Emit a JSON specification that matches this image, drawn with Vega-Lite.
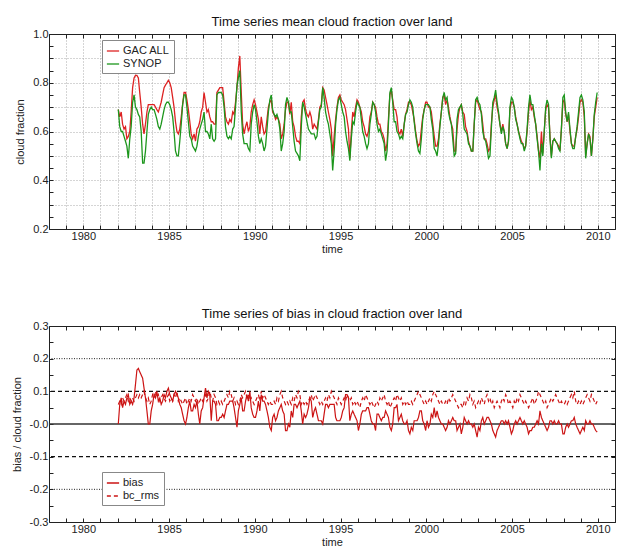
{
"$schema":"https://vega.github.io/schema/vega-lite/v6.json",
"background":"white",
"padding":{"left":11,"top":16,"right":0,"bottom":0},
"config":{"font":"Liberation Sans","view":{"stroke":null},
"axis":{"domainColor":"#222","tickColor":"#222","labelColor":"#222","titleColor":"#222","labelFontSize":11,"titleFontSize":11,"titleFontWeight":"normal","tickSize":-4,"labelPadding":5,"grid":false,"gridColor":"#999","gridDash":[1,2]},
"title":{"fontSize":13,"fontWeight":"normal","offset":-1,"color":"#111"}},
"data":{"values":[
{"t":1982.04,"g":0.69,"s":0.69,"b":0,"r":0.06},{"t":1982.125,"g":0.66,"s":0.62,"b":0.06,"r":0.07},{"t":1982.21,"g":0.68,"s":0.60,"b":0.08,"r":0.06},{"t":1982.29,"g":0.63,"s":0.60,"b":0.05,"r":0.08},{"t":1982.375,"g":0.61,"s":0.58,"b":0.07,"r":0.07},{"t":1982.46,"g":0.62,"s":0.56,"b":0.06,"r":0.08},{"t":1982.54,"g":0.57,"s":0.54,"b":0.08,"r":0.09},{"t":1982.625,"g":0.58,"s":0.49,"b":0.09,"r":0.07},{"t":1982.71,"g":0.60,"s":0.57,"b":0.06,"r":0.08},{"t":1982.79,"g":0.68,"s":0.62,"b":0.07,"r":0.07},{"t":1982.875,"g":0.78,"s":0.72,"b":0.06,"r":0.08},{"t":1982.96,"g":0.82,"s":0.75,"b":0.08,"r":0.07},
{"t":1983.04,"g":0.83,"s":0.70,"b":0.12,"r":0.08},{"t":1983.125,"g":0.83,"s":0.69,"b":0.165,"r":0.09},{"t":1983.21,"g":0.82,"s":0.67,"b":0.17,"r":0.08},{"t":1983.29,"g":0.76,"s":0.66,"b":0.16,"r":0.09},{"t":1983.375,"g":0.70,"s":0.60,"b":0.15,"r":0.08},{"t":1983.46,"g":0.63,"s":0.47,"b":0.14,"r":0.09},{"t":1983.54,"g":0.59,"s":0.47,"b":0.11,"r":0.10},{"t":1983.625,"g":0.63,"s":0.52,"b":0.08,"r":0.08},{"t":1983.71,"g":0.68,"s":0.60,"b":0.04,"r":0.07},{"t":1983.79,"g":0.71,"s":0.67,"b":0,"r":0.08},{"t":1983.875,"g":0.71,"s":0.69,"b":0,"r":0.06},{"t":1983.96,"g":0.71,"s":0.70,"b":0.04,"r":0.07},
{"t":1984.04,"g":0.71,"s":0.69,"b":0.06,"r":0.09},{"t":1984.125,"g":0.71,"s":0.69,"b":0.09,"r":0.08},{"t":1984.21,"g":0.70,"s":0.67,"b":0.08,"r":0.10},{"t":1984.29,"g":0.69,"s":0.65,"b":0.10,"r":0.08},{"t":1984.375,"g":0.68,"s":0.62,"b":0.07,"r":0.09},{"t":1984.46,"g":0.70,"s":0.61,"b":0.08,"r":0.07},{"t":1984.54,"g":0.72,"s":0.63,"b":0.06,"r":0.08},{"t":1984.625,"g":0.75,"s":0.66,"b":0.07,"r":0.09},{"t":1984.71,"g":0.78,"s":0.69,"b":0.09,"r":0.08},{"t":1984.79,"g":0.79,"s":0.71,"b":0.08,"r":0.07},{"t":1984.875,"g":0.80,"s":0.72,"b":0.10,"r":0.08},{"t":1984.96,"g":0.81,"s":0.72,"b":0.11,"r":0.09},
{"t":1985.04,"g":0.80,"s":0.71,"b":0.09,"r":0.07},{"t":1985.125,"g":0.78,"s":0.69,"b":0.08,"r":0.08},{"t":1985.21,"g":0.74,"s":0.66,"b":0.07,"r":0.07},{"t":1985.29,"g":0.70,"s":0.60,"b":0.09,"r":0.09},{"t":1985.375,"g":0.64,"s":0.52,"b":0.10,"r":0.08},{"t":1985.46,"g":0.60,"s":0.50,"b":0.09,"r":0.10},{"t":1985.54,"g":0.59,"s":0.50,"b":0.08,"r":0.07},{"t":1985.625,"g":0.61,"s":0.56,"b":0.06,"r":0.08},{"t":1985.71,"g":0.66,"s":0.63,"b":0.05,"r":0.07},{"t":1985.79,"g":0.71,"s":0.71,"b":0.03,"r":0.06},{"t":1985.875,"g":0.76,"s":0.75,"b":0.01,"r":0.07},{"t":1985.96,"g":0.76,"s":0.75,"b":0,"r":0.08},
{"t":1986.04,"g":0.73,"s":0.70,"b":0.02,"r":0.06},{"t":1986.125,"g":0.69,"s":0.64,"b":0.05,"r":0.07},{"t":1986.21,"g":0.64,"s":0.58,"b":0.07,"r":0.08},{"t":1986.29,"g":0.59,"s":0.57,"b":0.04,"r":0.07},{"t":1986.375,"g":0.57,"s":0.54,"b":0.04,"r":0.09},{"t":1986.46,"g":0.59,"s":0.53,"b":0.06,"r":0.08},{"t":1986.54,"g":0.56,"s":0.52,"b":0.05,"r":0.07},{"t":1986.625,"g":0.61,"s":0.54,"b":0.07,"r":0.08},{"t":1986.71,"g":0.62,"s":0.58,"b":0.03,"r":0.06},{"t":1986.79,"g":0.64,"s":0.61,"b":0,"r":0.07},{"t":1986.875,"g":0.68,"s":0.63,"b":0.04,"r":0.08},{"t":1986.96,"g":0.70,"s":0.65,"b":0.05,"r":0.07},
{"t":1987.04,"g":0.76,"s":0.68,"b":0.08,"r":0.08},{"t":1987.125,"g":0.72,"s":0.60,"b":0.11,"r":0.09},{"t":1987.21,"g":0.68,"s":0.60,"b":0.08,"r":0.07},{"t":1987.29,"g":0.69,"s":0.59,"b":0.10,"r":0.08},{"t":1987.375,"g":0.66,"s":0.57,"b":0.09,"r":0.10},{"t":1987.46,"g":0.64,"s":0.63,"b":0.01,"r":0.08},{"t":1987.54,"g":0.64,"s":0.57,"b":0.07,"r":0.07},{"t":1987.625,"g":0.63,"s":0.56,"b":0.07,"r":0.09},{"t":1987.71,"g":0.63,"s":0.57,"b":0.06,"r":0.08},{"t":1987.79,"g":0.76,"s":0.75,"b":0.01,"r":0.06},{"t":1987.875,"g":0.77,"s":0.76,"b":0.01,"r":0.07},{"t":1987.96,"g":0.78,"s":0.76,"b":0.02,"r":0.06},
{"t":1988.04,"g":0.78,"s":0.76,"b":0.02,"r":0.07},{"t":1988.125,"g":0.78,"s":0.75,"b":0.03,"r":0.06},{"t":1988.21,"g":0.72,"s":0.70,"b":0.02,"r":0.07},{"t":1988.29,"g":0.66,"s":0.62,"b":0.04,"r":0.08},{"t":1988.375,"g":0.64,"s":0.58,"b":0.06,"r":0.09},{"t":1988.46,"g":0.63,"s":0.57,"b":0.06,"r":0.08},{"t":1988.54,"g":0.65,"s":0.58,"b":0.07,"r":0.10},{"t":1988.625,"g":0.64,"s":0.57,"b":0.07,"r":0.09},{"t":1988.71,"g":0.68,"s":0.61,"b":0.07,"r":0.07},{"t":1988.79,"g":0.67,"s":0.62,"b":0.05,"r":0.08},{"t":1988.875,"g":0.72,"s":0.70,"b":0.02,"r":0.06},{"t":1988.96,"g":0.78,"s":0.79,"b":-0.01,"r":0.07},
{"t":1989.04,"g":0.86,"s":0.82,"b":0.04,"r":0.06},{"t":1989.125,"g":0.91,"s":0.85,"b":0.06,"r":0.07},{"t":1989.21,"g":0.76,"s":0.68,"b":0.08,"r":0.09},{"t":1989.29,"g":0.63,"s":0.59,"b":0.04,"r":0.08},{"t":1989.375,"g":0.59,"s":0.55,"b":0.04,"r":0.09},{"t":1989.46,"g":0.62,"s":0.55,"b":0.07,"r":0.10},{"t":1989.54,"g":0.64,"s":0.55,"b":0.09,"r":0.08},{"t":1989.625,"g":0.60,"s":0.53,"b":0.07,"r":0.09},{"t":1989.71,"g":0.62,"s":0.52,"b":0.10,"r":0.07},{"t":1989.79,"g":0.68,"s":0.63,"b":0.05,"r":0.08},{"t":1989.875,"g":0.71,"s":0.68,"b":0.03,"r":0.07},{"t":1989.96,"g":0.73,"s":0.71,"b":0.02,"r":0.06},
{"t":1990.04,"g":0.71,"s":0.69,"b":0.02,"r":0.07},{"t":1990.125,"g":0.68,"s":0.64,"b":0.04,"r":0.08},{"t":1990.21,"g":0.65,"s":0.58,"b":0.07,"r":0.09},{"t":1990.29,"g":0.59,"s":0.55,"b":0.04,"r":0.07},{"t":1990.375,"g":0.66,"s":0.57,"b":0.09,"r":0.10},{"t":1990.46,"g":0.62,"s":0.55,"b":0.07,"r":0.08},{"t":1990.54,"g":0.59,"s":0.52,"b":0.07,"r":0.09},{"t":1990.625,"g":0.60,"s":0.54,"b":0.06,"r":0.08},{"t":1990.71,"g":0.65,"s":0.61,"b":0.04,"r":0.07},{"t":1990.79,"g":0.70,"s":0.68,"b":0.02,"r":0.06},{"t":1990.875,"g":0.72,"s":0.73,"b":-0.01,"r":0.07},{"t":1990.96,"g":0.73,"s":0.75,"b":-0.02,"r":0.06},
{"t":1991.04,"g":0.68,"s":0.69,"b":0.02,"r":0.06},{"t":1991.125,"g":0.67,"s":0.67,"b":0.03,"r":0.07},{"t":1991.21,"g":0.65,"s":0.66,"b":0.01,"r":0.06},{"t":1991.29,"g":0.66,"s":0.67,"b":0.02,"r":0.08},{"t":1991.375,"g":0.65,"s":0.65,"b":0.04,"r":0.07},{"t":1991.46,"g":0.63,"s":0.61,"b":0.05,"r":0.09},{"t":1991.54,"g":0.57,"s":0.52,"b":0.06,"r":0.10},{"t":1991.625,"g":0.59,"s":0.55,"b":0.04,"r":0.08},{"t":1991.71,"g":0.63,"s":0.60,"b":0.03,"r":0.07},{"t":1991.79,"g":0.69,"s":0.71,"b":-0.02,"r":0.06},{"t":1991.875,"g":0.72,"s":0.74,"b":-0.02,"r":0.07},{"t":1991.96,"g":0.72,"s":0.72,"b":0,"r":0.06},
{"t":1992.04,"g":0.67,"s":0.68,"b":-0.01,"r":0.07},{"t":1992.125,"g":0.72,"s":0.68,"b":0.04,"r":0.06},{"t":1992.21,"g":0.64,"s":0.62,"b":0.02,"r":0.08},{"t":1992.29,"g":0.62,"s":0.56,"b":0.06,"r":0.07},{"t":1992.375,"g":0.58,"s":0.52,"b":0.06,"r":0.09},{"t":1992.46,"g":0.56,"s":0.51,"b":0.05,"r":0.08},{"t":1992.54,"g":0.56,"s":0.50,"b":0.06,"r":0.10},{"t":1992.625,"g":0.55,"s":0.48,"b":0.07,"r":0.09},{"t":1992.71,"g":0.66,"s":0.62,"b":0.04,"r":0.06},{"t":1992.79,"g":0.72,"s":0.72,"b":0,"r":0.07},{"t":1992.875,"g":0.73,"s":0.70,"b":0.03,"r":0.06},{"t":1992.96,"g":0.69,"s":0.67,"b":0.02,"r":0.07},
{"t":1993.04,"g":0.67,"s":0.64,"b":0.03,"r":0.06},{"t":1993.125,"g":0.66,"s":0.61,"b":0.05,"r":0.07},{"t":1993.21,"g":0.68,"s":0.60,"b":0.08,"r":0.08},{"t":1993.29,"g":0.66,"s":0.59,"b":0.07,"r":0.09},{"t":1993.375,"g":0.61,"s":0.59,"b":0.02,"r":0.07},{"t":1993.46,"g":0.63,"s":0.59,"b":0.04,"r":0.08},{"t":1993.54,"g":0.62,"s":0.57,"b":0.05,"r":0.09},{"t":1993.625,"g":0.61,"s":0.58,"b":0.03,"r":0.08},{"t":1993.71,"g":0.65,"s":0.64,"b":0.01,"r":0.07},{"t":1993.79,"g":0.70,"s":0.69,"b":0.01,"r":0.06},{"t":1993.875,"g":0.71,"s":0.70,"b":0.01,"r":0.07},{"t":1993.96,"g":0.78,"s":0.78,"b":0,"r":0.06},
{"t":1994.04,"g":0.77,"s":0.74,"b":0.03,"r":0.07},{"t":1994.125,"g":0.74,"s":0.68,"b":0.06,"r":0.08},{"t":1994.21,"g":0.71,"s":0.65,"b":0.06,"r":0.07},{"t":1994.29,"g":0.68,"s":0.63,"b":0.05,"r":0.09},{"t":1994.375,"g":0.65,"s":0.59,"b":0.06,"r":0.08},{"t":1994.46,"g":0.61,"s":0.55,"b":0.06,"r":0.10},{"t":1994.54,"g":0.50,"s":0.44,"b":0.06,"r":0.09},{"t":1994.625,"g":0.58,"s":0.52,"b":0.06,"r":0.08},{"t":1994.71,"g":0.65,"s":0.63,"b":0.02,"r":0.07},{"t":1994.79,"g":0.70,"s":0.69,"b":0.01,"r":0.06},{"t":1994.875,"g":0.74,"s":0.73,"b":0.01,"r":0.08},{"t":1994.96,"g":0.75,"s":0.74,"b":0.01,"r":0.07},
{"t":1995.04,"g":0.73,"s":0.71,"b":0.02,"r":0.06},{"t":1995.125,"g":0.72,"s":0.68,"b":0.04,"r":0.07},{"t":1995.21,"g":0.71,"s":0.66,"b":0.05,"r":0.08},{"t":1995.29,"g":0.69,"s":0.60,"b":0.09,"r":0.07},{"t":1995.375,"g":0.65,"s":0.56,"b":0.09,"r":0.09},{"t":1995.46,"g":0.61,"s":0.53,"b":0.08,"r":0.08},{"t":1995.54,"g":0.49,"s":0.48,"b":0.01,"r":0.07},{"t":1995.625,"g":0.60,"s":0.57,"b":0.03,"r":0.08},{"t":1995.71,"g":0.68,"s":0.64,"b":0.04,"r":0.06},{"t":1995.79,"g":0.66,"s":0.63,"b":0.03,"r":0.07},{"t":1995.875,"g":0.70,"s":0.68,"b":0.02,"r":0.06},{"t":1995.96,"g":0.73,"s":0.72,"b":0.01,"r":0.07},
{"t":1996.04,"g":0.72,"s":0.71,"b":-0.02,"r":0.06},{"t":1996.125,"g":0.70,"s":0.70,"b":0,"r":0.05},{"t":1996.21,"g":0.68,"s":0.65,"b":0.03,"r":0.07},{"t":1996.29,"g":0.64,"s":0.60,"b":0.04,"r":0.08},{"t":1996.375,"g":0.62,"s":0.58,"b":0.04,"r":0.07},{"t":1996.46,"g":0.59,"s":0.55,"b":0.04,"r":0.09},{"t":1996.54,"g":0.58,"s":0.53,"b":0.05,"r":0.08},{"t":1996.625,"g":0.60,"s":0.55,"b":0.05,"r":0.07},{"t":1996.71,"g":0.66,"s":0.63,"b":0.03,"r":0.06},{"t":1996.79,"g":0.68,"s":0.67,"b":0.01,"r":0.07},{"t":1996.875,"g":0.72,"s":0.72,"b":0,"r":0.06},{"t":1996.96,"g":0.71,"s":0.71,"b":0,"r":0.05},
{"t":1997.04,"g":0.70,"s":0.68,"b":-0.02,"r":0.06},{"t":1997.125,"g":0.66,"s":0.63,"b":0.03,"r":0.07},{"t":1997.21,"g":0.63,"s":0.60,"b":0.03,"r":0.06},{"t":1997.29,"g":0.63,"s":0.61,"b":0.02,"r":0.08},{"t":1997.375,"g":0.60,"s":0.59,"b":0.01,"r":0.07},{"t":1997.46,"g":0.59,"s":0.57,"b":0.02,"r":0.08},{"t":1997.54,"g":0.57,"s":0.55,"b":0.02,"r":0.09},{"t":1997.625,"g":0.52,"s":0.48,"b":0.04,"r":0.07},{"t":1997.71,"g":0.55,"s":0.52,"b":0.03,"r":0.06},{"t":1997.79,"g":0.65,"s":0.63,"b":0.02,"r":0.07},{"t":1997.875,"g":0.75,"s":0.76,"b":-0.01,"r":0.05},{"t":1997.96,"g":0.77,"s":0.78,"b":-0.02,"r":0.06},
{"t":1998.04,"g":0.73,"s":0.72,"b":0,"r":0.07},{"t":1998.125,"g":0.69,"s":0.64,"b":0.05,"r":0.08},{"t":1998.21,"g":0.69,"s":0.64,"b":0.05,"r":0.07},{"t":1998.29,"g":0.66,"s":0.60,"b":0.06,"r":0.09},{"t":1998.375,"g":0.60,"s":0.59,"b":0.01,"r":0.08},{"t":1998.46,"g":0.59,"s":0.57,"b":0.02,"r":0.07},{"t":1998.54,"g":0.61,"s":0.58,"b":0.03,"r":0.08},{"t":1998.625,"g":0.58,"s":0.57,"b":0.01,"r":0.06},{"t":1998.71,"g":0.63,"s":0.63,"b":0,"r":0.07},{"t":1998.79,"g":0.67,"s":0.67,"b":0,"r":0.06},{"t":1998.875,"g":0.69,"s":0.68,"b":0.01,"r":0.07},{"t":1998.96,"g":0.72,"s":0.71,"b":-0.02,"r":0.06},
{"t":1999.04,"g":0.72,"s":0.73,"b":-0.03,"r":0.06},{"t":1999.125,"g":0.71,"s":0.72,"b":-0.01,"r":0.07},{"t":1999.21,"g":0.68,"s":0.70,"b":-0.02,"r":0.06},{"t":1999.29,"g":0.65,"s":0.64,"b":0.01,"r":0.07},{"t":1999.375,"g":0.60,"s":0.59,"b":0.01,"r":0.08},{"t":1999.46,"g":0.56,"s":0.55,"b":0.01,"r":0.09},{"t":1999.54,"g":0.54,"s":0.52,"b":0.02,"r":0.10},{"t":1999.625,"g":0.55,"s":0.51,"b":0.04,"r":0.09},{"t":1999.71,"g":0.61,"s":0.57,"b":0.04,"r":0.08},{"t":1999.79,"g":0.66,"s":0.65,"b":0.01,"r":0.07},{"t":1999.875,"g":0.69,"s":0.69,"b":0,"r":0.06},{"t":1999.96,"g":0.72,"s":0.71,"b":-0.02,"r":0.07},
{"t":2000.04,"g":0.72,"s":0.71,"b":0.01,"r":0.06},{"t":2000.125,"g":0.70,"s":0.71,"b":-0.01,"r":0.07},{"t":2000.21,"g":0.70,"s":0.70,"b":0,"r":0.08},{"t":2000.29,"g":0.68,"s":0.65,"b":0.03,"r":0.07},{"t":2000.375,"g":0.63,"s":0.61,"b":0.02,"r":0.09},{"t":2000.46,"g":0.58,"s":0.53,"b":0.05,"r":0.10},{"t":2000.54,"g":0.54,"s":0.52,"b":0.02,"r":0.09},{"t":2000.625,"g":0.54,"s":0.50,"b":0.04,"r":0.08},{"t":2000.71,"g":0.57,"s":0.55,"b":0.02,"r":0.07},{"t":2000.79,"g":0.63,"s":0.62,"b":0.01,"r":0.06},{"t":2000.875,"g":0.68,"s":0.68,"b":0,"r":0.07},{"t":2000.96,"g":0.74,"s":0.74,"b":0,"r":0.06},
{"t":2001.04,"g":0.75,"s":0.76,"b":-0.01,"r":0.06},{"t":2001.125,"g":0.71,"s":0.73,"b":-0.02,"r":0.07},{"t":2001.21,"g":0.73,"s":0.74,"b":-0.01,"r":0.06},{"t":2001.29,"g":0.70,"s":0.68,"b":0.01,"r":0.08},{"t":2001.375,"g":0.66,"s":0.65,"b":0,"r":0.07},{"t":2001.46,"g":0.63,"s":0.63,"b":0.01,"r":0.08},{"t":2001.54,"g":0.61,"s":0.57,"b":0.02,"r":0.09},{"t":2001.625,"g":0.52,"s":0.50,"b":0.01,"r":0.08},{"t":2001.71,"g":0.52,"s":0.51,"b":0.01,"r":0.07},{"t":2001.79,"g":0.61,"s":0.65,"b":-0.02,"r":0.06},{"t":2001.875,"g":0.67,"s":0.69,"b":-0.01,"r":0.05},{"t":2001.96,"g":0.70,"s":0.70,"b":0,"r":0.06},
{"t":2002.04,"g":0.71,"s":0.71,"b":-0.03,"r":0.06},{"t":2002.125,"g":0.68,"s":0.67,"b":-0.01,"r":0.05},{"t":2002.21,"g":0.67,"s":0.61,"b":0.02,"r":0.07},{"t":2002.29,"g":0.62,"s":0.60,"b":0.01,"r":0.06},{"t":2002.375,"g":0.60,"s":0.59,"b":0,"r":0.08},{"t":2002.46,"g":0.56,"s":0.55,"b":0.01,"r":0.07},{"t":2002.54,"g":0.54,"s":0.54,"b":0,"r":0.09},{"t":2002.625,"g":0.52,"s":0.52,"b":0,"r":0.08},{"t":2002.71,"g":0.52,"s":0.52,"b":-0.01,"r":0.06},{"t":2002.79,"g":0.63,"s":0.63,"b":0,"r":0.07},{"t":2002.875,"g":0.72,"s":0.73,"b":-0.02,"r":0.05},{"t":2002.96,"g":0.73,"s":0.74,"b":-0.04,"r":0.06},
{"t":2003.04,"g":0.71,"s":0.72,"b":-0.01,"r":0.07},{"t":2003.125,"g":0.69,"s":0.71,"b":-0.02,"r":0.06},{"t":2003.21,"g":0.68,"s":0.67,"b":0.01,"r":0.08},{"t":2003.29,"g":0.63,"s":0.60,"b":0.02,"r":0.07},{"t":2003.375,"g":0.57,"s":0.57,"b":0,"r":0.06},{"t":2003.46,"g":0.57,"s":0.56,"b":0.01,"r":0.08},{"t":2003.54,"g":0.55,"s":0.53,"b":0.02,"r":0.09},{"t":2003.625,"g":0.52,"s":0.49,"b":0.02,"r":0.07},{"t":2003.71,"g":0.53,"s":0.50,"b":0.01,"r":0.08},{"t":2003.79,"g":0.63,"s":0.61,"b":0,"r":0.06},{"t":2003.875,"g":0.70,"s":0.72,"b":-0.02,"r":0.07},{"t":2003.96,"g":0.73,"s":0.74,"b":-0.03,"r":0.05},
{"t":2004.04,"g":0.75,"s":0.77,"b":-0.04,"r":0.06},{"t":2004.125,"g":0.70,"s":0.72,"b":-0.02,"r":0.07},{"t":2004.21,"g":0.67,"s":0.68,"b":-0.01,"r":0.06},{"t":2004.29,"g":0.63,"s":0.63,"b":0,"r":0.05},{"t":2004.375,"g":0.60,"s":0.59,"b":0.01,"r":0.07},{"t":2004.46,"g":0.63,"s":0.62,"b":0.01,"r":0.08},{"t":2004.54,"g":0.60,"s":0.60,"b":0,"r":0.07},{"t":2004.625,"g":0.55,"s":0.55,"b":0.01,"r":0.09},{"t":2004.71,"g":0.53,"s":0.53,"b":0,"r":0.08},{"t":2004.79,"g":0.56,"s":0.56,"b":0.01,"r":0.06},{"t":2004.875,"g":0.69,"s":0.70,"b":-0.01,"r":0.07},{"t":2004.96,"g":0.72,"s":0.74,"b":-0.03,"r":0.06},
{"t":2005.04,"g":0.72,"s":0.73,"b":-0.02,"r":0.05},{"t":2005.125,"g":0.70,"s":0.70,"b":0,"r":0.07},{"t":2005.21,"g":0.66,"s":0.65,"b":0.01,"r":0.06},{"t":2005.29,"g":0.63,"s":0.63,"b":0,"r":0.08},{"t":2005.375,"g":0.60,"s":0.60,"b":0.01,"r":0.07},{"t":2005.46,"g":0.58,"s":0.57,"b":0.02,"r":0.09},{"t":2005.54,"g":0.56,"s":0.55,"b":0.01,"r":0.08},{"t":2005.625,"g":0.55,"s":0.55,"b":0,"r":0.07},{"t":2005.71,"g":0.53,"s":0.52,"b":0.01,"r":0.06},{"t":2005.79,"g":0.54,"s":0.54,"b":0,"r":0.07},{"t":2005.875,"g":0.60,"s":0.61,"b":-0.01,"r":0.06},{"t":2005.96,"g":0.68,"s":0.70,"b":-0.03,"r":0.05},
{"t":2006.04,"g":0.73,"s":0.75,"b":-0.02,"r":0.06},{"t":2006.125,"g":0.69,"s":0.71,"b":-0.02,"r":0.07},{"t":2006.21,"g":0.70,"s":0.71,"b":-0.01,"r":0.08},{"t":2006.29,"g":0.66,"s":0.67,"b":-0.01,"r":0.06},{"t":2006.375,"g":0.63,"s":0.63,"b":0,"r":0.07},{"t":2006.46,"g":0.58,"s":0.57,"b":0.01,"r":0.08},{"t":2006.54,"g":0.52,"s":0.52,"b":0,"r":0.10},{"t":2006.625,"g":0.49,"s":0.44,"b":0.04,"r":0.09},{"t":2006.71,"g":0.60,"s":0.55,"b":0.02,"r":0.08},{"t":2006.79,"g":0.51,"s":0.50,"b":0.01,"r":0.07},{"t":2006.875,"g":0.60,"s":0.60,"b":0,"r":0.06},{"t":2006.96,"g":0.69,"s":0.70,"b":-0.01,"r":0.07},
{"t":2007.04,"g":0.71,"s":0.73,"b":-0.02,"r":0.05},{"t":2007.125,"g":0.70,"s":0.71,"b":-0.01,"r":0.06},{"t":2007.21,"g":0.58,"s":0.57,"b":0.01,"r":0.07},{"t":2007.29,"g":0.50,"s":0.49,"b":0.01,"r":0.08},{"t":2007.375,"g":0.56,"s":0.56,"b":0,"r":0.07},{"t":2007.46,"g":0.57,"s":0.57,"b":0.01,"r":0.08},{"t":2007.54,"g":0.56,"s":0.56,"b":0,"r":0.09},{"t":2007.625,"g":0.55,"s":0.55,"b":0,"r":0.08},{"t":2007.71,"g":0.54,"s":0.53,"b":0.01,"r":0.07},{"t":2007.79,"g":0.52,"s":0.52,"b":0,"r":0.06},{"t":2007.875,"g":0.61,"s":0.61,"b":0,"r":0.07},{"t":2007.96,"g":0.72,"s":0.74,"b":-0.03,"r":0.06},
{"t":2008.04,"g":0.73,"s":0.75,"b":-0.03,"r":0.06},{"t":2008.125,"g":0.67,"s":0.68,"b":-0.01,"r":0.07},{"t":2008.21,"g":0.64,"s":0.64,"b":0,"r":0.06},{"t":2008.29,"g":0.67,"s":0.68,"b":-0.01,"r":0.07},{"t":2008.375,"g":0.60,"s":0.61,"b":0,"r":0.08},{"t":2008.46,"g":0.55,"s":0.55,"b":0.01,"r":0.09},{"t":2008.54,"g":0.54,"s":0.53,"b":0.01,"r":0.08},{"t":2008.625,"g":0.54,"s":0.53,"b":0.02,"r":0.10},{"t":2008.71,"g":0.58,"s":0.58,"b":0,"r":0.07},{"t":2008.79,"g":0.61,"s":0.62,"b":-0.01,"r":0.06},{"t":2008.875,"g":0.66,"s":0.68,"b":-0.02,"r":0.07},{"t":2008.96,"g":0.72,"s":0.74,"b":-0.03,"r":0.06},
{"t":2009.04,"g":0.73,"s":0.75,"b":-0.02,"r":0.07},{"t":2009.125,"g":0.72,"s":0.73,"b":-0.01,"r":0.06},{"t":2009.21,"g":0.66,"s":0.68,"b":-0.02,"r":0.07},{"t":2009.29,"g":0.50,"s":0.49,"b":0.01,"r":0.08},{"t":2009.375,"g":0.55,"s":0.55,"b":0,"r":0.09},{"t":2009.46,"g":0.59,"s":0.59,"b":0,"r":0.08},{"t":2009.54,"g":0.58,"s":0.57,"b":0.01,"r":0.07},{"t":2009.625,"g":0.50,"s":0.50,"b":0,"r":0.09},{"t":2009.71,"g":0.57,"s":0.57,"b":0,"r":0.08},{"t":2009.79,"g":0.66,"s":0.67,"b":-0.01,"r":0.07},{"t":2009.875,"g":0.70,"s":0.72,"b":-0.02,"r":0.06},{"t":2009.96,"g":0.74,"s":0.76,"b":-0.025,"r":0.07}
]},
"spacing":54,
"resolve":{"scale":{"color":"independent","strokeDash":"independent"},"legend":{"color":"independent","strokeDash":"independent"}},
"vconcat":[
{"width":566,"height":195,
 "title":{"text":"Time series mean cloud fraction over land"},
 "layer":[
  {"mark":{"type":"line","strokeWidth":1.3,"clip":true},
   "encoding":{
    "x":{"field":"t","type":"quantitative","scale":{"domain":[1978,2011],"nice":false,"zero":false},
     "axis":{"title":"time","titlePadding":2,"values":[1978,1979,1980,1981,1982,1983,1984,1985,1986,1987,1988,1989,1990,1991,1992,1993,1994,1995,1996,1997,1998,1999,2000,2001,2002,2003,2004,2005,2006,2007,2008,2009,2010,2011],"labelExpr":"datum.value % 5 == 0 ? format(datum.value,'d') : ''","grid":true,"gridColor":"#aaa","gridDash":[1,2]}},
    "y":{"field":"g","type":"quantitative","scale":{"domain":[0.2,1.0],"nice":false,"zero":false},
     "axis":{"title":"cloud fraction","titlePadding":7,"values":[0.2,0.25,0.3,0.35,0.4,0.45,0.5,0.55,0.6,0.65,0.7,0.75,0.8,0.85,0.9,0.95,1.0],"labelExpr":"abs(datum.value*5 - round(datum.value*5)) < 0.001 ? format(datum.value,'.1f') : ''","grid":true,"gridColor":"#aaa","gridDash":[1,2],"gridOpacity":{"condition":{"test":"abs(datum.value*10 - round(datum.value*10)) > 0.001","value":0},"value":1}}},
    "color":{"datum":"GAC ALL","type":"nominal","scale":{"domain":["GAC ALL","SYNOP"],"range":["#dd2222","#1c961c"]},
     "legend":{"title":null,"orient":"none","legendX":53,"legendY":6,"symbolType":"stroke","symbolSize":150,"symbolStrokeWidth":1.3,"labelFontSize":11,"labelColor":"#222","strokeColor":"#888","fillColor":"white","padding":4,"rowPadding":1,"labelOffset":3}}}},
  {"mark":{"type":"line","strokeWidth":1.3,"clip":true},
   "encoding":{
    "x":{"field":"t","type":"quantitative","scale":{"domain":[1978,2011],"nice":false,"zero":false},"axis":null},
    "y":{"field":"s","type":"quantitative","scale":{"domain":[0.2,1.0],"nice":false,"zero":false},"axis":null},
    "color":{"datum":"SYNOP","type":"nominal"}}},
  {"mark":{"type":"line","opacity":0},
   "encoding":{
    "x":{"field":"t","type":"quantitative","scale":{"domain":[1978,2011],"nice":false,"zero":false},"axis":{"orient":"top","labels":false,"title":null,"values":[1978,1979,1980,1981,1982,1983,1984,1985,1986,1987,1988,1989,1990,1991,1992,1993,1994,1995,1996,1997,1998,1999,2000,2001,2002,2003,2004,2005,2006,2007,2008,2009,2010,2011]}},
    "y":{"field":"g","type":"quantitative","scale":{"domain":[0.2,1.0],"nice":false,"zero":false},"axis":{"orient":"right","labels":false,"title":null,"values":[0.2,0.25,0.3,0.35,0.4,0.45,0.5,0.55,0.6,0.65,0.7,0.75,0.8,0.85,0.9,0.95,1.0]}}}}
 ],
 "resolve":{"axis":{"x":"independent","y":"independent"}}
},
{"width":566,"height":196,
 "title":{"text":"Time series of bias in cloud fraction over land"},
 "layer":[
  {"data":{"values":[{"y":0.2},{"y":-0.2}]},"mark":{"type":"rule","color":"#222","strokeWidth":1,"strokeDash":[1,1.5]},
   "encoding":{"y":{"field":"y","type":"quantitative","scale":{"domain":[-0.3,0.3],"nice":false,"zero":false},"axis":null}}},
  {"data":{"values":[{"y":0.1},{"y":-0.1}]},"mark":{"type":"rule","color":"#111","strokeWidth":1.2,"strokeDash":[4,3]},
   "encoding":{"y":{"field":"y","type":"quantitative","scale":{"domain":[-0.3,0.3],"nice":false,"zero":false},"axis":null}}},
  {"data":{"values":[{"y":0}]},"mark":{"type":"rule","color":"#333","strokeWidth":1.5},
   "encoding":{"y":{"field":"y","type":"quantitative","scale":{"domain":[-0.3,0.3],"nice":false,"zero":false},"axis":null}}},
  {"mark":{"type":"line","strokeWidth":1.2,"color":"#cc1414","clip":true},
   "encoding":{
    "x":{"field":"t","type":"quantitative","scale":{"domain":[1978,2011],"nice":false,"zero":false},
     "axis":{"title":"time","titlePadding":2,"values":[1978,1979,1980,1981,1982,1983,1984,1985,1986,1987,1988,1989,1990,1991,1992,1993,1994,1995,1996,1997,1998,1999,2000,2001,2002,2003,2004,2005,2006,2007,2008,2009,2010,2011],"labelExpr":"datum.value % 5 == 0 ? format(datum.value,'d') : ''"}},
    "y":{"field":"b","type":"quantitative","scale":{"domain":[-0.3,0.3],"nice":false,"zero":false},
     "axis":{"title":"bias / cloud fraction","titlePadding":7,"values":[-0.3,-0.25,-0.2,-0.15,-0.1,-0.05,0,0.05,0.1,0.15,0.2,0.25,0.3],"labelExpr":"abs(datum.value*10 - round(datum.value*10)) < 0.001 ? (datum.value < 0.001 ? '-' : '') + format(abs(datum.value),'.1f') : ''"}},
    "strokeDash":{"datum":"bias","type":"nominal","scale":{"domain":["bias","bc_rms"],"range":[[1,0],[4,3]]},
     "legend":{"title":null,"orient":"none","legendX":53,"legendY":146,"symbolType":"stroke","symbolSize":150,"symbolStrokeWidth":1.3,"symbolStrokeColor":"#cc1414","labelFontSize":11,"labelColor":"#222","strokeColor":"#888","fillColor":"white","padding":4,"rowPadding":1,"labelOffset":3}}}},
  {"mark":{"type":"line","strokeWidth":1.2,"color":"#cc1414","clip":true},
   "encoding":{
    "x":{"field":"t","type":"quantitative","scale":{"domain":[1978,2011],"nice":false,"zero":false},"axis":null},
    "y":{"field":"r","type":"quantitative","scale":{"domain":[-0.3,0.3],"nice":false,"zero":false},"axis":null},
    "strokeDash":{"datum":"bc_rms","type":"nominal"}}},
  {"mark":{"type":"line","opacity":0},
   "encoding":{
    "x":{"field":"t","type":"quantitative","scale":{"domain":[1978,2011],"nice":false,"zero":false},"axis":{"orient":"top","labels":false,"title":null,"values":[1978,1979,1980,1981,1982,1983,1984,1985,1986,1987,1988,1989,1990,1991,1992,1993,1994,1995,1996,1997,1998,1999,2000,2001,2002,2003,2004,2005,2006,2007,2008,2009,2010,2011]}},
    "y":{"field":"b","type":"quantitative","scale":{"domain":[-0.3,0.3],"nice":false,"zero":false},"axis":{"orient":"right","labels":false,"title":null,"values":[-0.3,-0.25,-0.2,-0.15,-0.1,-0.05,0,0.05,0.1,0.15,0.2,0.25,0.3]}}}}
 ],
 "resolve":{"axis":{"x":"independent","y":"independent"}}
}
]
}
